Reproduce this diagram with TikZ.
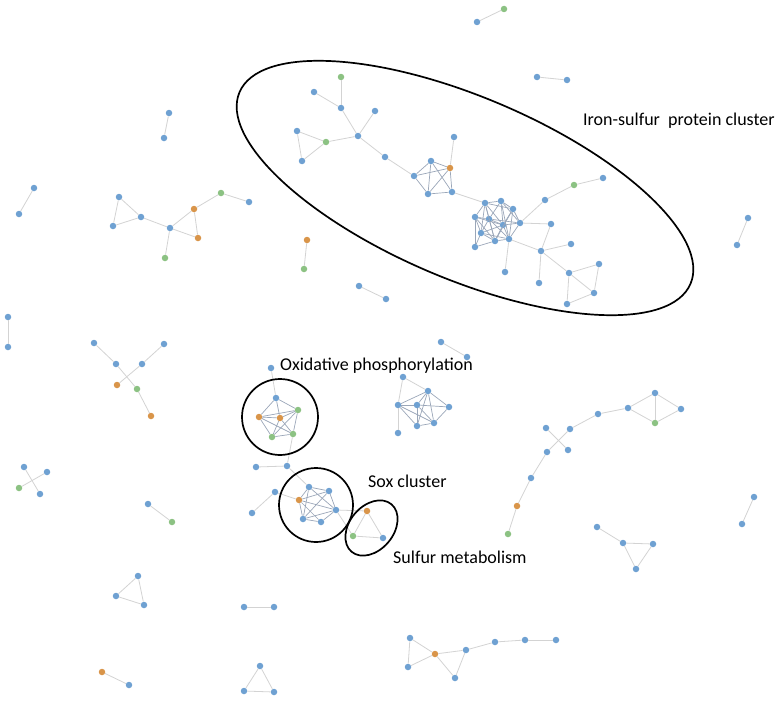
\documentclass[tikz,border=0pt]{standalone}
\usepackage{fontspec}
\setmainfont{Carlito}
\definecolor{nblue}{HTML}{6FA1D2}
\definecolor{norange}{HTML}{D9954A}
\definecolor{ngreen}{HTML}{8CC283}
\definecolor{ledgec}{HTML}{D3D3D3}
\definecolor{dedgec}{HTML}{9AA6B8}
\begin{document}
\begin{tikzpicture}[x=1pt,y=-1pt,
  nd/.style={circle,draw=none,inner sep=0pt,minimum size=6.5pt},
  bn/.style={nd,fill=nblue},
  on/.style={nd,fill=norange},
  gn/.style={nd,fill=ngreen},
  ledge/.style={draw=ledgec,line width=0.8pt},
  dedge/.style={draw=dedgec,line width=0.7pt},
  ring/.style={draw=black,line width=1.7pt},
  lbl/.style={font=\fontsize{18}{22}\selectfont,inner sep=0pt,text=black}]
\useasboundingbox (0,0) rectangle (781,701);

% blue nodes
\foreach \n/\x/\y in {
 t1/119/197,t2/113/226,t3/141/217,t4/170/228,t7/249/202,
 p1a/169/113,p1b/164/138,p2a/34/188,p2b/19/214,p3a/477/22,p4a/537/77,p4b/567/80,
 p5a/748/218,p5b/737/245,p7a/359/286,p7b/386/299,p8a/8/317,p8b/8/347,p9a/441/342,p9b/467/357,
 p10a/148/504,p11a/244/607,p11b/274/607,p12b/129/685,p13a/754/497,p13b/742/524,
 x1/24/467,x2/47/472,x4/40/494,
 r1/138/576,r2/116/596,r3/144/605,s1/260/666,s2/244/691,s3/274/692,
 l1/94/343,l2/116/364,l3/142/364,l4/164/344,
 i2/314/92,i3/341/108,i4/375/111,i5/358/136,i7/297/131,i8/302/161,i9/385/157,
 k1/454/137,k2/431/161,k3/414/176,k5/428/194,k6/452/192,
 d1/485/203,d2/501/201,d3/513/209,d4/475/217,d5/489/219,d6/503/225,d7/520/223,
 d8/481/233,d9/495/241,d10/509/239,d11/475/247,
 e1/545/200,e3/603/178,e4/551/224,e5/541/251,e6/571/244,e7/505/272,e8/539/283,
 e9/569/273,e10/567/304,e11/599/264,e12/594/293,
 o1/271/368,o2/276/398,
 q1/256/467,q2/287/466,q3/275/492,q4/252/513,q6/309/487,q7/329/491,q8/336/510,q9/303/519,q10/321/522,
 m3/383/538,
 c1/403/377,c2/428/391,c3/398/405,c4/417/405,c5/449/407,c6/417/426,c7/434/423,c8/398/433,
 h1/546/428,h2/570/429,h3/568/450,h4/547/452,h5/531/478,h8/598/414,h9/628/408,h10/655/393,h11/681/409,
 b1/597/527,b2/623/543,b3/653/544,b4/636/569,
 g1/410/638,g3/408/667,g4/466/650,g5/455/678,g6/495/642,g7/525/640,g8/556/640}
 \node[bn] (\n) at (\x,\y) {};
% orange nodes
\foreach \n/\x/\y in {t5/194/209,t8/198/238,p6a/307/240,p12a/102/672,l5/117/385,l7/151/416,
 k4/450/168,o4/259/417,o5/280/418,q5/299/500,m1/367/511,h6/517/506,g2/435/654}
 \node[on] (\n) at (\x,\y) {};
% green nodes
\foreach \n/\x/\y in {t6/221/193,t9/165/258,p3b/504/9,p6b/304/269,p10b/172/522,x3/19/488,
 l6/137/389,i1/341/77,i6/326/142,e2/574/185,o3/298/410,o6/272/437,o7/293/434,m2/353/536,
 h7/508/534,h12/655/423}
 \node[gn] (\n) at (\x,\y) {};

% light edges
\foreach \a/\b in {t1/t2,t1/t3,t2/t3,t3/t4,t4/t5,t4/t8,t5/t8,t5/t6,t6/t7,t4/t9,
 p1a/p1b,p2a/p2b,p3a/p3b,p4a/p4b,p5a/p5b,p6a/p6b,p7a/p7b,p8a/p8b,p9a/p9b,p10a/p10b,
 p11a/p11b,p12a/p12b,p13a/p13b,x1/x4,x2/x3,r1/r2,r1/r3,r2/r3,s1/s2,s1/s3,s2/s3,
 l1/l2,l2/l6,l4/l3,l3/l5,l6/l7,
 i1/i3,i2/i3,i3/i5,i4/i5,i5/i6,i6/i7,i7/i8,i8/i6,i5/i9,i9/k3,k1/k4,k6/d1,
 d7/e1,e1/e2,e2/e3,d7/e4,e4/e5,d10/e5,d10/e7,e5/e6,e5/e8,e5/e9,e9/e10,e9/e11,e9/e12,e10/e12,e11/e12,
 o1/o2,o7/q2,q1/q2,q3/q4,q3/q5,q2/q6,q8/m1,q8/m2,m1/m2,m1/m3,m2/m3,
 c1/c3,c1/c2,c3/c8,
 h1/h3,h2/h4,h4/h5,h5/h6,h6/h7,h2/h8,h8/h9,h9/h10,h9/h12,h10/h11,h10/h12,h12/h11,
 b1/b2,b2/b3,b2/b4,b3/b4,
 g1/g3,g1/g2,g3/g2,g2/g4,g2/g5,g4/g5,g4/g6,g6/g7,g7/g8}
 \draw[ledge] (\a) -- (\b);

% denser (darker) edges
\foreach \a/\b in {k2/k3,k2/k4,k2/k5,k2/k6,k3/k4,k3/k5,k4/k5,k4/k6,k5/k6,
 d1/d2,d1/d3,d1/d4,d1/d5,d1/d6,d1/d8,d2/d3,d2/d5,d2/d6,d2/d7,d2/d10,d3/d6,d3/d7,d3/d9,
 d4/d5,d4/d8,d4/d6,d4/d9,d5/d6,d5/d8,d5/d9,d5/d10,d5/d7,d6/d7,d6/d9,d6/d10,d6/d8,
 d7/d10,d8/d9,d8/d10,d9/d10,d8/d11,d4/d11,d11/d9,d3/d10,d1/d9,
 o2/o3,o2/o4,o2/o5,o3/o4,o3/o5,o3/o6,o3/o7,o4/o5,o4/o6,o4/o7,o5/o6,o5/o7,o6/o7,
 q5/q6,q5/q7,q5/q8,q5/q9,q6/q7,q6/q8,q6/q9,q7/q8,q7/q9,q8/q9,q9/q10,q5/q10,q8/q10,
 c3/c4,c3/c2,c4/c5,c2/c5,c2/c6,c2/c7,c3/c7,c4/c7,c5/c7,c6/c7,c4/c6,c3/c6,c2/c4}
 \draw[dedge] (\a) -- (\b);

% cluster outlines
\draw[ring,rotate around={-23:(465,188)}] (465,188) ellipse [x radius=245,y radius=91];
\draw[ring] (280,417) circle [radius=38];
\draw[ring] (316,505) circle [radius=37];
\draw[ring,rotate around={50:(371.5,528)}] (371.5,528) ellipse [x radius=31,y radius=22];

% labels
\node[lbl,anchor=base west] (lab1) at (583,125) {Iron-sulfur\ \ protein cluster};
\node[lbl,anchor=base west] (lab2) at (280,370) {Oxidative phosphorylation};
\node[lbl,anchor=base west] (lab3) at (368,487) {Sox cluster};
\node[lbl,anchor=base west] (lab4) at (393,563) {Sulfur metabolism};
\end{tikzpicture}
\end{document}
